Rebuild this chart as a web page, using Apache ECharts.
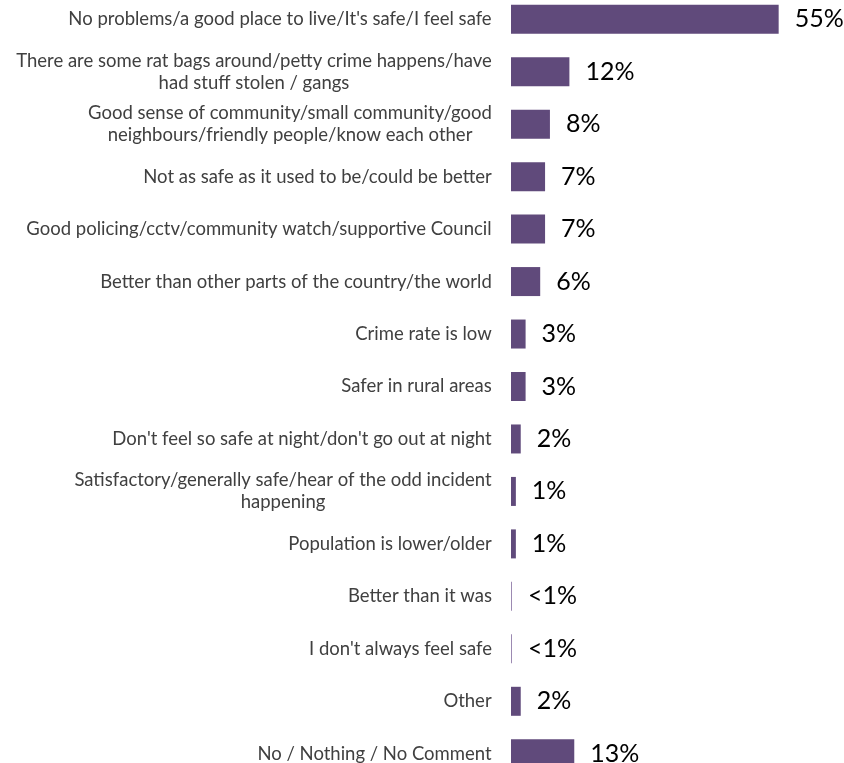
<!DOCTYPE html>
<html>
<head>
<meta charset="utf-8">
<script src="https://cdn.jsdelivr.net/npm/echarts@6/dist/echarts.min.js"></script>
<style>
  html, body { margin: 0; padding: 0; background: #fff; }
  #chart { width: 844px; height: 763px; }
</style>
</head>
<body>
<div id="chart"></div>
<script>
const categories = [
  "No problems/a good place to live/It's safe/I feel safe",
  "There are some rat bags around/petty crime happens/have\nhad stuff stolen / gangs",
  "Good sense of community/small community/good\nneighbours/friendly people/know each other",
  "Not as safe as it used to be/could be better",
  "Good policing/cctv/community watch/supportive Council",
  "Better than other parts of the country/the world",
  "Crime rate is low",
  "Safer in rural areas",
  "Don't feel so safe at night/don't go out at night",
  "Satisfactory/generally safe/hear of the odd incident\nhappening",
  "Population is lower/older",
  "Better than it was",
  "I don't always feel safe",
  "Other",
  "No / Nothing / No Comment"
];
const values = [55, 12, 8, 7, 7, 6, 3, 3, 2, 1, 1, 0.2, 0.2, 2, 13];
const valueLabels = ["55%", "12%", "8%", "7%", "7%", "6%", "3%", "3%", "2%", "1%", "1%", "<1%", "<1%", "2%", "13%"];

const LABEL_SIZE = 18.5;
const LABEL_FAMILY = 'Lato';
const BAR_COLOR = '#604a7b';

// Measure each category's lines so multi-line labels can be centred as a block
const ctx = document.createElement('canvas').getContext('2d');
ctx.font = LABEL_SIZE + 'px ' + LABEL_FAMILY;
const rich = {};
categories.forEach((c, i) => {
  const w = Math.max(...c.split('\n').map(l => ctx.measureText(l).width));
  rich['c' + i] = {
    width: Math.ceil(w), align: 'center', fontSize: LABEL_SIZE, lineHeight: 22,
    color: '#404040', fontFamily: LABEL_FAMILY
  };
});

const chart = echarts.init(document.getElementById('chart'));
chart.setOption({
  animation: false,
  grid: { left: 511, right: 41, top: -7, height: 787, containLabel: false, outerBoundsMode: 'none' },
  xAxis: { type: 'value', min: 0, max: 60, show: false },
  yAxis: {
    type: 'category',
    data: categories,
    inverse: true,
    axisLine: { show: false },
    axisTick: { show: false },
    axisLabel: {
      margin: 19,
      formatter: (v, i) => v.split('\n').map(l => '{c' + i + '|' + l + '}').join('\n'),
      rich: rich
    }
  },
  series: [{
    type: 'bar',
    data: values.map(v => ({
      value: v,
      itemStyle: { color: v < 1 ? '#9a87b0' : BAR_COLOR }
    })),
    barWidth: 29,
    label: {
      show: true,
      position: 'right',
      distance: 16,
      fontSize: 25,
      color: '#000',
      fontFamily: LABEL_FAMILY,
      formatter: p => valueLabels[p.dataIndex]
    }
  }]
});
</script>
</body>
</html>
